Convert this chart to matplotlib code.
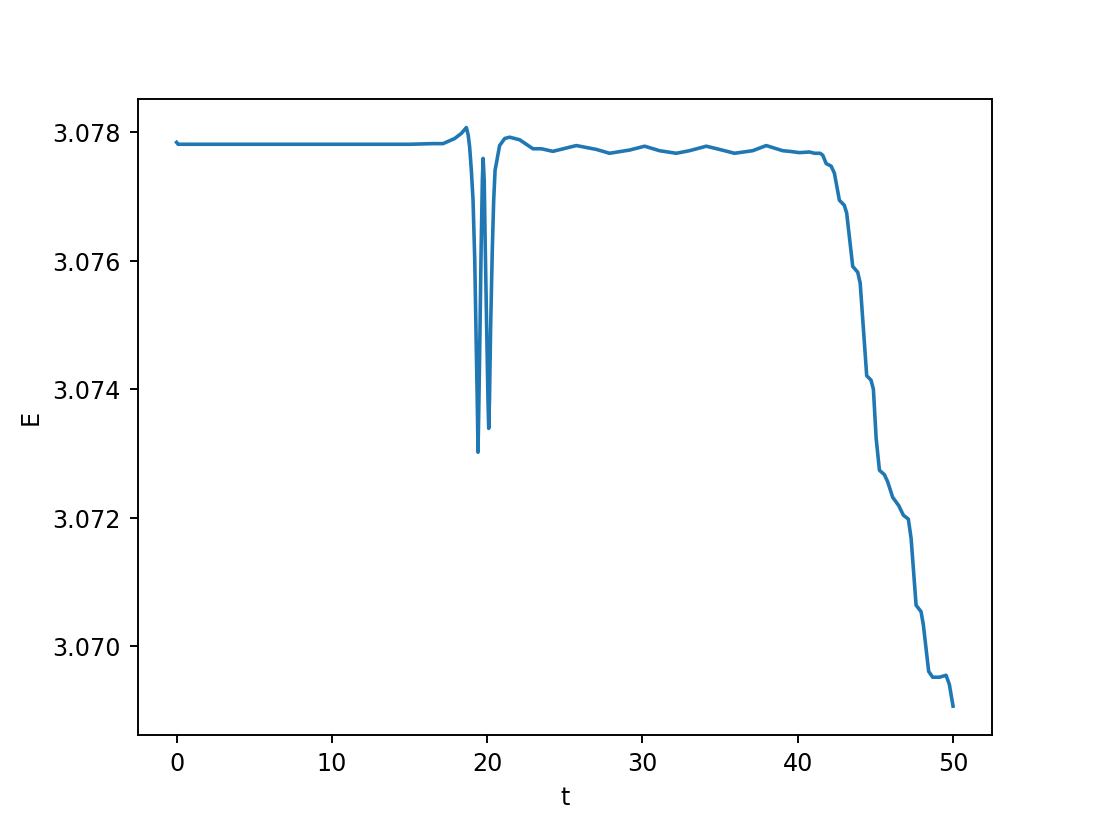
import matplotlib
matplotlib.use("Agg")
import matplotlib.pyplot as plt

# values
t = [0.0, 0.1, 5.0, 10.0, 15.0, 16.5, 17.16, 17.91, 18.34, 18.66, 18.78,
     18.87, 18.98, 19.09, 19.2, 19.29, 19.37, 19.41, 19.45, 19.52, 19.61,
     19.69, 19.74, 19.81, 19.88, 19.97, 20.05, 20.1, 20.15, 20.22, 20.33,
     20.42, 20.51, 20.59, 20.8, 21.13, 21.45, 22.09, 22.95, 23.49, 24.23,
     25.74, 27.03, 27.88, 29.17, 30.14, 31.1, 32.18, 33.03, 34.11, 34.96,
     35.93, 37.1, 37.97, 39.03, 39.47, 40.11, 40.76, 41.08, 41.44, 41.61,
     41.83, 42.15, 42.36, 42.68, 43.0, 43.15, 43.54, 43.86, 44.02, 44.44,
     44.72, 44.87, 45.05, 45.26, 45.58, 45.79, 46.11, 46.5, 46.8, 47.12,
     47.3, 47.62, 47.94, 48.09, 48.43, 48.69, 49.12, 49.55, 49.76, 50.0]
E = [3.07784, 3.07781, 3.07781, 3.07781, 3.07781, 3.07782, 3.07782, 3.07790,
     3.07798, 3.07807, 3.07795, 3.07777, 3.07741, 3.07694, 3.07601, 3.07477,
     3.07369, 3.07302, 3.07354, 3.07462, 3.07617, 3.07725, 3.07759, 3.07725,
     3.07617, 3.07493, 3.07385, 3.07339, 3.07385, 3.07493, 3.07617, 3.07694,
     3.07741, 3.07751, 3.07779, 3.07790, 3.07792, 3.07788, 3.07774, 3.07774,
     3.07770, 3.07779, 3.07773, 3.07767, 3.07772, 3.07778, 3.07771, 3.07767,
     3.07771, 3.07778, 3.07773, 3.07767, 3.07771, 3.07779, 3.07771, 3.07770,
     3.07768, 3.07769, 3.07767, 3.07767, 3.07764, 3.07751, 3.07747, 3.07736,
     3.07694, 3.07686, 3.07674, 3.07591, 3.07582, 3.07565, 3.07421, 3.07414,
     3.07400, 3.07323, 3.07274, 3.07267, 3.07256, 3.07232, 3.07219, 3.07204,
     3.07198, 3.07168, 3.07064, 3.07054, 3.07033, 3.06961, 3.06952, 3.06952,
     3.06955, 3.06941, 3.06907]

fig = plt.figure(figsize=(6.4, 4.8), dpi=172.2)
plt.plot(t, E)
plt.xlabel("t")
plt.ylabel("E")
plt.ticklabel_format(useOffset=False)
plt.savefig("out.png", dpi=172.2)
